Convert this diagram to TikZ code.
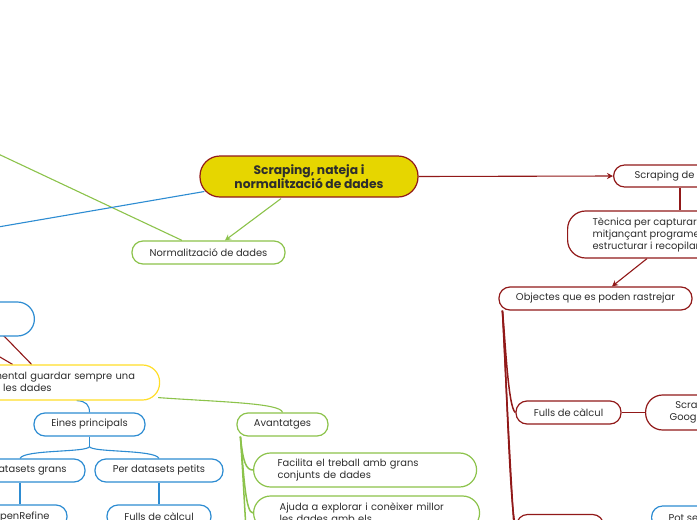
\documentclass[tikz,border=0pt]{standalone}
\usepackage{fontspec}
\setmainfont{Poppins}
\usetikzlibrary{calc,arrows.meta}
\definecolor{dred}{RGB}{145,25,25}
\definecolor{gr}{RGB}{140,195,75}
\definecolor{bl}{RGB}{45,140,210}
\definecolor{yb}{RGB}{255,222,40}
\definecolor{cfill}{RGB}{230,214,0}
\definecolor{txt}{RGB}{45,45,45}
\pgfdeclarelayer{bg}
\pgfsetlayers{bg,main}
\begin{document}
\begin{tikzpicture}[x=1pt,y=-1pt,
  box/.style={rectangle,rounded corners=11pt,line width=1.2pt,fill=white,inner ysep=0pt,
    text=txt,font=\fontsize{9.9}{12}\selectfont,minimum height=23pt},
  rbox/.style={box,draw=dred},
  gbox/.style={box,draw=gr},
  bbox/.style={box,draw=bl},
  ybox/.style={box,draw=yb},
  con/.style={line width=1.1pt},
  tree/.style={line width=1.5pt},
  tip/.style={-{Stealth[length=6pt,width=6pt]}}]
\useasboundingbox (0,0) rectangle (697,520);
\clip (0,0) rectangle (697,520);
% nodes
\node[rbox,fill=cfill,rounded corners=20pt,minimum width=218pt,minimum height=41pt,
  font=\bfseries\fontsize{12.3}{14}\selectfont,align=center] (central) at (309,176.5)
  {Scraping, nateja i\\normalització de dades};
\node[gbox,minimum width=153pt] (norm) at (208.5,252.5) {Normalització de dades};
\node[rbox,anchor=west,inner xsep=21pt,minimum height=22pt] (scrapde) at (613,176) {Scraping de dades};
\node[rbox,anchor=west,inner xsep=25pt,align=left,minimum height=47pt,rounded corners=18pt] (tecnica) at (567,234.5)
  {Tècnica per capturar\\mitjançant programes\\estructurar i recopilar};
\node[rbox,minimum width=193pt] (objectes) at (595.5,298.5) {Objectes que es poden rastrejar};
\node[rbox,minimum width=105pt] (fullsR) at (568.5,412.5) {Fulls de càlcul};
\node[rbox,anchor=west,inner xsep=24pt,align=center,minimum height=35pt,rounded corners=17pt] (scrapG) at (645,412.5)
  {Scraping de\\Google Sheets};
\node[bbox,anchor=west,inner xsep=17pt,minimum height=23pt] (potS) at (651,517.5) {Pot ser útil};
\node[rbox,anchor=west,minimum width=87pt] (bottomRed) at (516,526) {};
\node[bbox,anchor=east,minimum width=150pt,minimum height=34pt,rounded corners=17pt] (blueLeft) at (35,319) {};
\node[ybox,anchor=west,inner xsep=20pt,text width=184pt,align=left,minimum height=35pt,rounded corners=17pt] (yellow) at (-65,382.5)
  {És fonamental guardar sempre una\\còpia de les dades};
\node[bbox,minimum width=111pt] (eines) at (89.5,424.5) {Eines principals};
\node[gbox,minimum width=91pt] (avant) at (282.5,424.5) {Avantatges};
\node[gbox,anchor=west,inner xsep=24pt,text width=175pt,align=left,minimum height=34pt,rounded corners=17pt] (facilita) at (253,470)
  {Facilita el treball amb grans\\conjunts de dades};
\node[gbox,anchor=west,inner xsep=26pt,text width=174pt,align=left,minimum height=34pt,rounded corners=17pt] (ajuda) at (253,513)
  {Ajuda a explorar i conèixer millor\\les dades amb els};
\node[bbox,minimum width=130pt] (grans) at (20,470.5) {Per datasets grans};
\node[bbox,minimum width=128pt] (petits) at (159,470.5) {Per datasets petits};
\node[bbox,minimum width=92pt] (openref) at (21,516.5) {OpenRefine};
\node[bbox,minimum width=104pt] (fullsL) at (159,516.5) {Fulls de càlcul};
% off-picture ends
\coordinate (offgreen) at (-60,126.6);
\coordinate (offblue) at (-60,237);
\coordinate (offA) at (-40,290.7);
\coordinate (offB) at (-40,333.7);
\coordinate (offR) at (524,650);
\coordinate (offG) at (258,640);
\begin{pgfonlayer}{bg}
\fill[white] (0,0) rectangle (697,520);
\draw[con,gr,tip] ($(central.south)+(-28,1)$) -- ($(norm.north)+(16.5,0)$);
\draw[con,gr] (offgreen) -- ($(norm.north)+(-26.5,0)$);
\draw[con,bl] ($(central.west)+(5,15)$) -- (offblue);
\draw[con,dred,tip] (central.east) -- (scrapde.west);
\draw[con,dred] ($(scrapde.south west)+(67,0)$) -- ($(tecnica.north west)+(113,0)$);
\draw[con,dred,tip] ($(tecnica.south west)+(80,0)$) -- ($(objectes.north)+(16.5,0)$);
\draw[tree,dred] ($(objectes.south west)+(4,0)$) .. controls (505,335) and (508,408) .. (fullsR.west);
\draw[tree,dred] ($(objectes.south west)+(4,0)$) .. controls (506,360) and (510,520) .. (bottomRed.west);
\draw[tree,dred] ($(objectes.south west)+(4,0)$) .. controls (507,400) and (514,560) .. (offR);
\draw[con,dred] (fullsR.east) -- (scrapG.west);
\draw[con,dred] (offA) -- ($(yellow.north)+(-16,0)$);
\draw[con,dred] (offB) -- ($(yellow.north)+(-35,0)$);
\draw[con,bl] ($(yellow.south)+(29,0)$) .. controls (86,401) and (89.5,405) .. (eines.north);
\draw[con,gr] ($(yellow.south east)+(-2,-3)$) .. controls (220,402) and (281,403) .. (avant.north);
\draw[tree,gr] ($(avant.south west)+(4,0)$) .. controls (243,462) and (246,470) .. (facilita.west);
\draw[tree,gr] ($(avant.south west)+(4,0)$) .. controls (244,480) and (246,513) .. (ajuda.west);
\draw[tree,gr] ($(avant.south west)+(4,0)$) .. controls (245,500) and (248,600) .. (offG);
\draw[con,bl] (eines.south) -- ++(0,10) coordinate (split);
\draw[con,bl] (split) .. controls ($(split)+(2,6)$) and ($(petits.north)+(-4,-9)$) .. (petits.north);
\draw[con,bl] (split) .. controls ($(split)+(-2,6)$) and ($(grans.north)+(4,-9)$) .. (grans.north);
\draw[con,bl] (grans.south) -- (grans.south |- openref.north);
\draw[con,bl] (petits.south) -- (fullsL.north);
\end{pgfonlayer}
\end{tikzpicture}
\end{document}
